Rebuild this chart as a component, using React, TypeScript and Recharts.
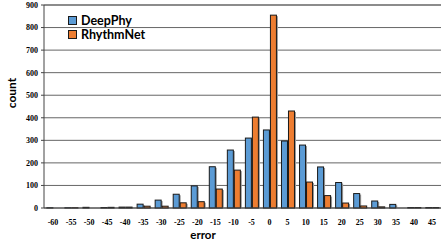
import React from 'react';
import { BarChart, Bar, XAxis, YAxis, CartesianGrid, ReferenceLine } from 'recharts';

const categories = ['-60','-55','-50','-45','-40','-35','-30','-25','-20','-15','-10','-5','0','5','10','15','20','25','30','35','40','45'];
const deepPhy = [1, 1, 3, 2, 4, 17, 35, 61, 98, 183, 257, 310, 346, 297, 279, 182, 113, 64, 31, 16, 2, 2];
const rhythmNet = [0, 1, 0, 3, 4, 8, 8, 23, 28, 84, 168, 403, 855, 430, 115, 55, 22, 9, 5, 0, 2, 2];
const yTicks = [0, 100, 200, 300, 400, 500, 600, 700, 800, 900];

const data = categories.map((c, i) => ({ error: c, DeepPhy: deepPhy[i], RhythmNet: rhythmNet[i] }));

const serifTick = { fontFamily: '"Liberation Serif", serif', fontWeight: 700, fontSize: 8, fill: '#000' };

const ShadowBar = (props: any) => {
  const { x, y, width, height, fill } = props;
  if (!height || height <= 0) return null;
  return (
    <g>
      <rect x={x + 1.5} y={y + 1} width={width} height={Math.max(height - 1, 0)} fill="#9a9a9a" />
      <rect x={x} y={y} width={width} height={height} fill={fill} stroke="#1a1a1a" strokeWidth={1} />
    </g>
  );
};

const LegendBox = () => (
  <g>
    <rect x={68.5} y={16.5} width={8} height={8} fill="#5B9BD5" stroke="#1a1a1a" />
    <text x={81} y={24.5} fontFamily="Lato, sans-serif" fontWeight={700} fontSize={12.5} fill="#000">DeepPhy</text>
    <rect x={68.5} y={30.5} width={8} height={8} fill="#ED7D31" stroke="#1a1a1a" />
    <text x={81} y={38.5} fontFamily="Lato, sans-serif" fontWeight={700} fontSize={12.5} fill="#000">RhythmNet</text>
  </g>
);

export default function App() {
  return (
    <div style={{ position: 'absolute', left: 0, top: 0, width: 442, height: 240 }}>
      <BarChart width={442} height={240} data={data} margin={{ top: 5, right: 1, left: 0, bottom: 0 }} barCategoryGap="16%" barGap={1}>
        <CartesianGrid vertical={false} stroke="#666" strokeWidth={1} />
        <XAxis
          dataKey="error"
          height={32}
          tickLine={false}
          axisLine={{ stroke: '#444' }}
          tick={serifTick}
          tickMargin={5}
          interval={0}
          label={{
            content: () => (
              <text x={203} y={238.5} textAnchor="middle" fontFamily="Lato, sans-serif" fontWeight={700} fontSize={11.5} fill="#000">error</text>
            ),
          }}
        />
        <YAxis
          width={44}
          domain={[0, 900]}
          ticks={yTicks}
          interval={0}
          tickSize={3}
          tickMargin={3}
          tickLine={{ stroke: '#444' }}
          axisLine={{ stroke: '#444' }}
          tick={serifTick}
          label={{
            content: () => (
              <text x={16} y={93} transform="rotate(-90 16 93)" textAnchor="middle" fontFamily="Lato, sans-serif" fontWeight={700} fontSize={12} fill="#000">count</text>
            ),
          }}
        />
        <YAxis yAxisId="right" orientation="right" width={0} tick={false} tickLine={false} axisLine={{ stroke: '#999', strokeWidth: 2 }} />
        <ReferenceLine y={900} stroke="#8c8c8c" strokeWidth={2} />
        <Bar dataKey="DeepPhy" fill="#5B9BD5" isAnimationActive={false} shape={ShadowBar} />
        <Bar dataKey="RhythmNet" fill="#ED7D31" isAnimationActive={false} shape={ShadowBar} />
        <LegendBox />
      </BarChart>
    </div>
  );
}
